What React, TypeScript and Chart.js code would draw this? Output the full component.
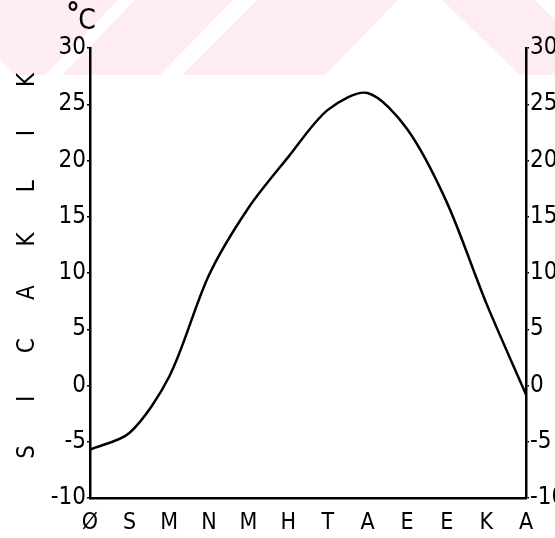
import React, { useEffect, useRef } from "react";
import { Chart, registerables } from "chart.js";

Chart.register(...registerables);

const months = ["Ø", "S", "M", "N", "M", "H", "T", "A", "E", "E", "K", "A"];
const temperature = [-5.7, -4.2, 0.8, 9.8, 15.8, 20.3, 24.5, 26, 22.8, 16.3, 7.3, -0.8];
const yMin = -10;
const yMax = 30;
const yStep = 5;
const axisTitleLetters = ["S", "I", "C", "A", "K", "L", "I", "K"];
const unitLabel = "°C";

const FONT = "'DejaVu Sans Condensed', 'DejaVu Sans', sans-serif";

const watermarkPlugin = {
  id: "watermark",
  beforeDraw(chart: any) {
    const ctx = chart.ctx;
    ctx.save();
    ctx.fillStyle = "#fdedf0";
    const polys = [
      [[0, 0], [118, 0], [45, 75], [15, 75], [0, 60]],
      [[135, 0], [233, 0], [160, 75], [62, 75]],
      [[257, 0], [398, 0], [325, 75], [182, 75]],
      [[442, 0], [535, 0], [555, 20], [555, 75], [520, 75]],
    ];
    for (const p of polys) {
      ctx.beginPath();
      ctx.moveTo(p[0][0], p[0][1]);
      for (let i = 1; i < p.length; i++) ctx.lineTo(p[i][0], p[i][1]);
      ctx.closePath();
      ctx.fill();
    }
    ctx.restore();
  },
};

const textPlugin = {
  id: "texts",
  afterDraw(chart: any) {
    const ctx = chart.ctx;
    ctx.save();
    ctx.fillStyle = "#000";
    ctx.textAlign = "center";
    ctx.textBaseline = "middle";
    // unit label
    ctx.font = `bold 30px ${FONT}`;
    ctx.fillText(unitLabel.slice(0, 1), 73, 16);
    ctx.font = `28px ${FONT}`;
    ctx.fillText(unitLabel.slice(1), 87, 22);
    // vertical axis title, spaced letters reading bottom to top
    ctx.font = `24px ${FONT}`;
    const top = 80;
    const bottom = 452;
    const n = axisTitleLetters.length;
    for (let i = 0; i < n; i++) {
      const y = bottom - ((bottom - top) * i) / (n - 1);
      ctx.save();
      ctx.translate(28, y);
      ctx.rotate(-Math.PI / 2);
      ctx.fillText(axisTitleLetters[i], 0, 0);
      ctx.restore();
    }
    ctx.restore();
  },
};

export default function App() {
  const ref = useRef<HTMLCanvasElement>(null);

  useEffect(() => {
    if (!ref.current) return;
    const yAxisCommon = (pos: "left" | "right", width: number) => ({
      type: "linear" as const,
      position: pos,
      min: yMin,
      max: yMax,
      ticks: {
        stepSize: yStep,
        color: "#000",
        font: { family: FONT, size: 24 },
        padding: 1,
      },
      grid: {
        drawOnChartArea: false,
        drawTicks: true,
        tickLength: 3,
        color: "#000",
        lineWidth: 1.5,
      },
      border: { display: true, color: "#000", width: 2.5 },
      afterFit: (scale: any) => {
        scale.width = width;
      },
    });

    const chart = new Chart(ref.current, {
      type: "line",
      data: {
        labels: months,
        datasets: [
          {
            data: temperature,
            borderColor: "#000",
            borderWidth: 2.5,
            pointRadius: 0,
            tension: 0.3,
            fill: false,
          },
        ],
      },
      options: {
        responsive: false,
        animation: false,
        layout: { padding: { top: 48, left: 0, right: 0, bottom: 0 } },
        plugins: {
          legend: { display: false },
          tooltip: { enabled: false },
        },
        scales: {
          x: {
            type: "category",
            offset: false,
            grid: { display: false },
            border: { display: true, color: "#000", width: 2.5 },
            ticks: {
              color: "#000",
              font: { family: FONT, size: 23 },
              padding: 3,
              maxRotation: 0,
              autoSkip: false,
            },
            afterFit: (scale: any) => {
              scale.height = 40;
            },
          },
          y: yAxisCommon("left", 90),
          y2: yAxisCommon("right", 29),
        },
      },
      plugins: [watermarkPlugin, textPlugin],
    });
    return () => chart.destroy();
  }, []);

  return (
    <div style={{ position: "fixed", left: 0, top: 0, width: 555, height: 538, background: "#fff" }}>
      <canvas ref={ref} width={555} height={538} />
    </div>
  );
}
